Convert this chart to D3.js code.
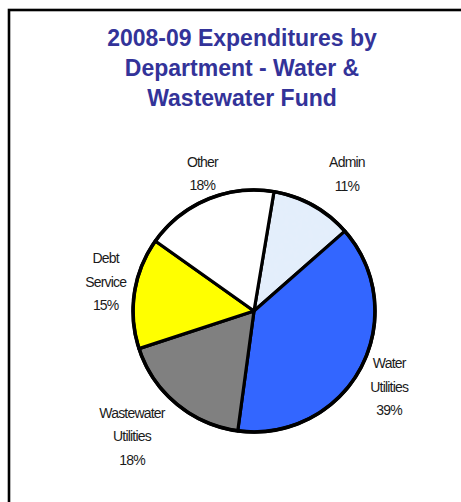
<!DOCTYPE html>
<html>
<head>
<meta charset="utf-8">
<script src="https://cdn.jsdelivr.net/npm/d3@7"></script>
<style>
  html, body { margin: 0; padding: 0; background: #fff; }
  svg { display: block; }
</style>
</head>
<body>
<svg id="chart" width="461" height="502"></svg>
<script>
// Spending shares by department (percent of fund total)
const categories = ["Admin", "Water Utilities", "Wastewater Utilities", "Debt Service", "Other"];
const shares = [11, 39, 18, 15, 18];
const labelLines = [["Admin"], ["Water", "Utilities"], ["Wastewater", "Utilities"], ["Debt", "Service"], ["Other"]];
const titleLines = ["2008-09 Expenditures by", "Department - Water &", "Wastewater Fund"];

// Styling and layout
const fills = ["url(#tissue)", "#3366ff", "#808080", "#ffff00", "#ffffff"];
const labelNudge = [[20, -6], [3, 5], [-26, 10], [0, -7], [6, 1]];
const cx = 254, cy = 311, radius = 121, labelRadius = 150;
const startDeg = 9.5;

const svg = d3.select("#chart");
const defs = svg.append("defs");

// Light blue paper-like texture for the Admin slice
const noise = defs.append("filter").attr("id", "paper")
  .attr("x", 0).attr("y", 0).attr("width", "100%").attr("height", "100%");
noise.append("feTurbulence").attr("type", "fractalNoise")
  .attr("baseFrequency", 0.2).attr("numOctaves", 3).attr("seed", 4).attr("result", "n");
noise.append("feColorMatrix").attr("in", "n").attr("type", "matrix")
  .attr("values", "0 0 0 0 0.78  0 0 0 0 0.85  0 0 0 0 0.96  0 0 0 -1.4 0.95");
const pat = defs.append("pattern").attr("id", "tissue")
  .attr("patternUnits", "userSpaceOnUse").attr("width", 120).attr("height", 120);
pat.append("rect").attr("width", 120).attr("height", 120).attr("fill", "#e3eefb");
pat.append("rect").attr("width", 120).attr("height", 120).attr("filter", "url(#paper)");

// Frame
svg.append("rect")
  .attr("x", 9).attr("y", 10).attr("width", 480).attr("height", 520)
  .attr("fill", "none").attr("stroke", "#000").attr("stroke-width", 2.6);

// Title
svg.append("g").selectAll("text").data(titleLines).join("text")
  .attr("x", 242).attr("y", (d, i) => 46 + i * 30)
  .attr("text-anchor", "middle")
  .attr("font-family", "Liberation Sans, Arial, sans-serif")
  .attr("font-weight", "bold").attr("font-size", 23)
  .attr("fill", "#333399")
  .text(d => d);

// Pie
const rad = Math.PI / 180;
const pie = d3.pie().sort(null).value(d => d)
  .startAngle(startDeg * rad).endAngle((startDeg + 360) * rad);
const arcs = pie(shares);
const arc = d3.arc().innerRadius(0).outerRadius(radius);
const labelArc = d3.arc().innerRadius(labelRadius).outerRadius(labelRadius);

const g = svg.append("g").attr("transform", `translate(${cx},${cy})`);
g.selectAll("path").data(arcs).join("path")
  .attr("d", arc)
  .attr("fill", (d, i) => fills[i])
  .attr("stroke", "#000").attr("stroke-width", 3.2)
  .attr("stroke-linejoin", "round");
g.append("circle").attr("r", radius).attr("fill", "none")
  .attr("stroke", "#000").attr("stroke-width", 3.6);

// Labels: category lines plus the percentage
const lineH = 23.5;
const lab = g.selectAll("g.lab").data(arcs).join("g").attr("class", "lab")
  .attr("transform", (d, i) => {
    const [x, y] = labelArc.centroid(d);
    return `translate(${x + labelNudge[i][0]},${y + labelNudge[i][1]})`;
  });
lab.each(function(d, i) {
  const lines = labelLines[i].concat([shares[i] + "%"]);
  const n = lines.length;
  d3.select(this).selectAll("text").data(lines).join("text")
    .attr("x", 0)
    .attr("y", (t, j) => (j - (n - 1) / 2) * lineH + 5)
    .attr("text-anchor", "middle")
    .attr("font-family", "Liberation Sans, Arial, sans-serif")
    .attr("font-size", 14)
    .attr("letter-spacing", -0.8)
    .attr("fill", "#1a1a1a")
    .text(t => t);
});
</script>
</body>
</html>
